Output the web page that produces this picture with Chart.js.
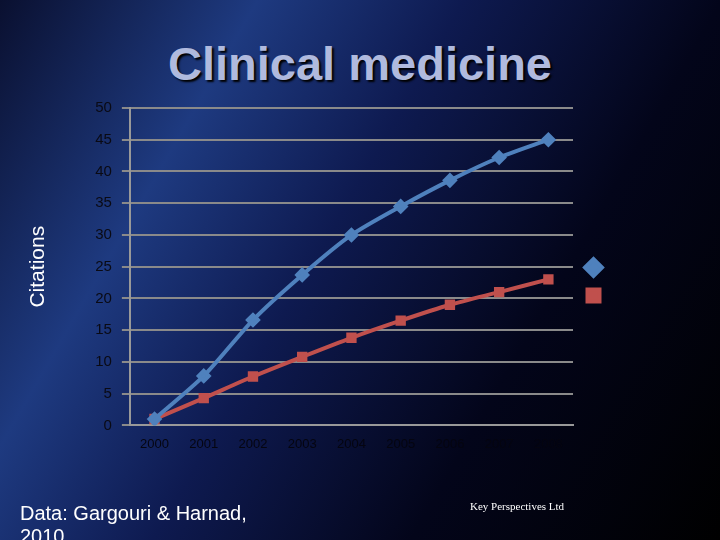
<!DOCTYPE html><html><head><meta charset="utf-8">
<script src="https://cdn.jsdelivr.net/npm/chart.js@4"></script>
<style>
html,body{margin:0;padding:0;width:720px;height:540px;overflow:hidden}
body{background:linear-gradient(120deg, #0a1030 0%, #1e3a80 25%, #0e1a50 45%, #03051a 70%, #000 100%);position:relative;font-family:"Liberation Sans",Arial,sans-serif}
#t{position:absolute;top:36px;left:0;width:720px;text-align:center;font-size:47px;font-weight:bold;color:#b0bade;text-shadow:2px 2px 2px #000}
#d{position:absolute;left:20px;top:502px;color:#fff;font-size:20px}
#k{position:absolute;left:470px;top:500px;color:#fff;font-size:11px;font-family:"Liberation Serif",serif}
canvas{position:absolute;left:0;top:0}
</style></head><body>
<div id="t">Clinical medicine</div>
<canvas id="c" width="720" height="540"></canvas>
<div id="d">Data: Gargouri &amp; Harnad,<br>2010</div>
<div id="k">Key Perspectives Ltd</div>
<script>
const categories=["2000","2001","2002","2003","2004","2005","2006","2007","2008"];
const seriesA=[1,7.8,16.6,23.7,30,34.5,38.6,42.2,45];
const seriesB=[1,4.3,7.7,10.8,13.8,16.5,19,21,23];
const yTicks=[0,5,10,15,20,25,30,35,40,45,50];
new Chart(document.getElementById('c'),{type:'line',
data:{labels:categories,datasets:[
{label:'',data:seriesA,borderColor:'#4f81bd',backgroundColor:'#4f81bd',borderWidth:4,pointStyle:'rectRot',pointRadius:5,tension:0.25},
{label:'',data:seriesB,borderColor:'#c0504d',backgroundColor:'#c0504d',borderWidth:4,pointStyle:'rect',pointRadius:4.5,tension:0.25}]},
options:{responsive:false,animation:false,
layout:{padding:{top:108,left:22,right:106,bottom:85}},
plugins:{legend:{position:'right',labels:{usePointStyle:true,boxWidth:9,padding:16,color:'#fff'}},tooltip:{enabled:false}},
scales:{x:{grid:{display:false,drawTicks:true},border:{color:'#999',width:2},ticks:{color:'#050510',font:{size:13}},offset:true},
y:{min:0,max:50,afterBuildTicks:a=>{a.ticks=yTicks.map(v=>({value:v}))},grid:{color:'#8a8a8a',lineWidth:2},border:{color:'#999',width:2},ticks:{color:'#0a0a14',font:{size:15},padding:10},
title:{display:true,text:'Citations',color:'#fff',font:{size:21},padding:{top:4,bottom:34}}}}}});
</script></body></html>
